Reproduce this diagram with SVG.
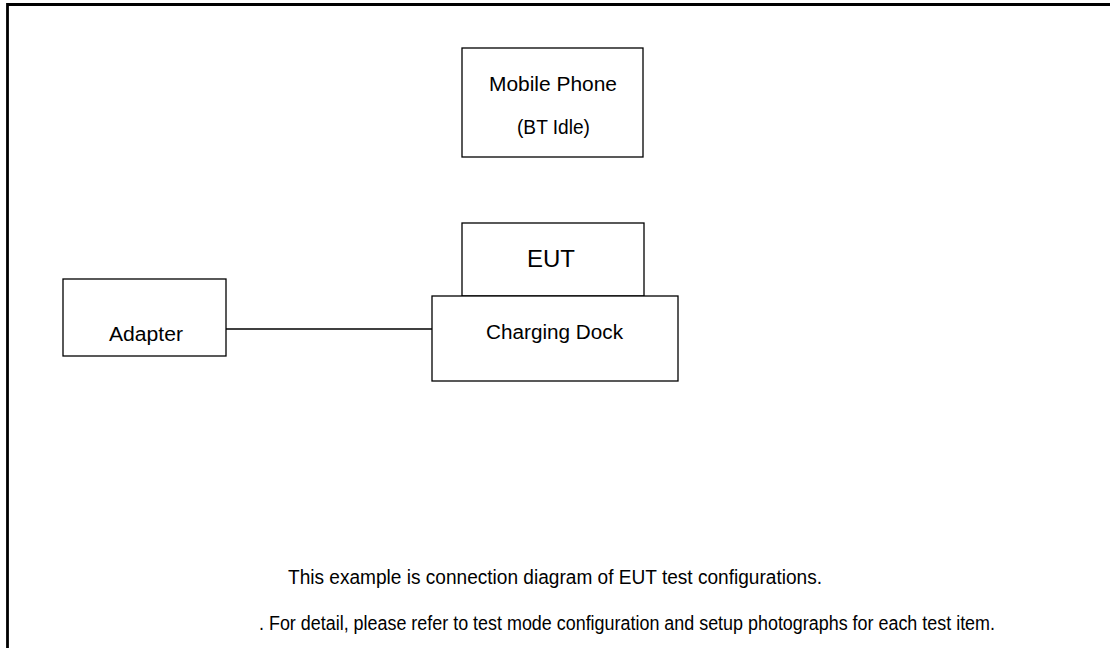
<svg xmlns="http://www.w3.org/2000/svg" width="1110" height="648" viewBox="0 0 1110 648">
<style>
.box{fill:#fff;stroke:#000;stroke-width:1.3}
.t{font-family:"Liberation Sans",Arial,sans-serif;font-size:20px;fill:#000}
.c{text-anchor:middle}
</style>
<rect width="1110" height="648" fill="#fff"/>
<path d="M7.5,660 V4.5 H1120" fill="none" stroke="#000" stroke-width="2.8"/>
<g id="connectors">
<line x1="226" y1="329" x2="432" y2="329" stroke="#000" stroke-width="1.5"/>
</g>
<g id="mobile-phone">
<rect class="box" x="462" y="48" width="181" height="109"/>
<text class="t" x="489" y="91" textLength="128" lengthAdjust="spacingAndGlyphs">Mobile Phone</text>
<text class="t" x="517" y="134" textLength="73" lengthAdjust="spacingAndGlyphs">(BT Idle)</text>
</g>
<g id="adapter">
<rect class="box" x="63" y="279" width="163" height="77"/>
<text class="t" x="109" y="341" textLength="74" lengthAdjust="spacingAndGlyphs">Adapter</text>
</g>
<g id="eut">
<rect class="box" x="462" y="223" width="182" height="73"/>
<text class="t" x="527" y="267" style="font-size:24px" textLength="48" lengthAdjust="spacingAndGlyphs">EUT</text>
</g>
<g id="charging-dock">
<rect class="box" x="432" y="296" width="246" height="85"/>
<text class="t" x="486" y="339" textLength="137" lengthAdjust="spacingAndGlyphs">Charging Dock</text>
</g>
<g id="notes">
<text class="t" x="288" y="584" textLength="534" lengthAdjust="spacingAndGlyphs">This example is connection diagram of EUT test configurations.</text>
<text class="t" x="259" y="630" textLength="736" lengthAdjust="spacingAndGlyphs">. For detail, please refer to test mode configuration and setup photographs for each test item.</text>
</g>
</svg>
